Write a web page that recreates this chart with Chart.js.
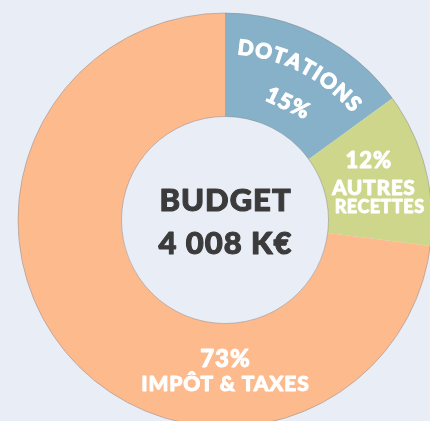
<!DOCTYPE html>
<html>
<head>
<meta charset="utf-8">
<script src="https://cdn.jsdelivr.net/npm/chart.js@4/dist/chart.umd.min.js"></script>
<style>
  html, body { margin: 0; padding: 0; background: #e9edf6; overflow: hidden; width: 430px; height: 421px; }
  #c { display: block; position: absolute; left: 0; top: 0; }
</style>
</head>
<body>
<canvas id="c" width="440" height="440" style="width:440px;height:440px"></canvas>
<script>
// ---- data ----
const categories = ['DOTATIONS', 'AUTRES RECETTES', 'IMPÔT & TAXES'];
const shares = [15, 12, 73];
const centerLines = ['BUDGET', '4 008 K€'];

const colors = ['#87b1c9', '#cdd68b', '#fdba8c'];
const FONT = 'Lato, "DejaVu Sans", sans-serif';

function heavyText(ctx, txt, x, y, sw, ls) {
  ctx.letterSpacing = (ls || 0) + 'px';
  const shift = (ls || 0) / 2; // compensate trailing spacing when centred
  ctx.lineWidth = sw;
  ctx.lineJoin = 'round';
  ctx.strokeStyle = ctx.fillStyle;
  ctx.strokeText(txt, x + shift, y);
  ctx.fillText(txt, x + shift, y);
  ctx.letterSpacing = '0px';
}

const labelPlugin = {
  id: 'labels',
  afterDatasetsDraw(chart) {
    const ctx = chart.ctx;
    const meta = chart.getDatasetMeta(0);
    const arcs = meta.data;
    const a0 = arcs[0];
    const cx = a0.x, cy = a0.y, ro = a0.outerRadius, ri = a0.innerRadius, th = ro - ri;

    // subtle outlines
    ctx.save();
    ctx.strokeStyle = 'rgba(130,130,140,0.45)';
    ctx.lineWidth = 1;
    ctx.beginPath(); ctx.arc(cx, cy, ro, 0, Math.PI * 2); ctx.stroke();
    ctx.beginPath(); ctx.arc(cx, cy, ri, 0, Math.PI * 2); ctx.stroke();
    ctx.restore();

    ctx.save();
    ctx.fillStyle = '#ffffff';
    ctx.textAlign = 'center';
    ctx.textBaseline = 'middle';

    // --- segment 0: curved name + rotated percentage
    {
      const arc = arcs[0];
      const mid = (arc.startAngle + arc.endAngle) / 2;
      const r = ri + th * 0.67;
      ctx.font = '900 21px ' + FONT;
      const txt = categories[0];
      const spacing = 1.6;
      const widths = [...txt].map(ch => ctx.measureText(ch).width + spacing);
      const total = widths.reduce((a, b) => a + b, 0) - spacing;
      let ang = mid - total / r / 2;
      [...txt].forEach((ch, i) => {
        const w = widths[i] - spacing;
        const a = ang + (w / 2) / r;
        ctx.save();
        ctx.translate(cx + r * Math.cos(a), cy + r * Math.sin(a));
        ctx.rotate(a + Math.PI / 2);
        heavyText(ctx, ch, 0, 0, 0.9, 0);
        ctx.restore();
        ang += widths[i] / r;
      });
      const r2 = ri + th * 0.28;
      const a2 = mid + 0.02;
      ctx.save();
      ctx.translate(cx + r2 * Math.cos(a2), cy + r2 * Math.sin(a2));
      ctx.rotate(a2 + Math.PI / 2 - 0.05);
      ctx.font = '900 22px ' + FONT;
      heavyText(ctx, shares[0] + '%', 0, 0, 0.9, 1);
      ctx.restore();
    }

    // --- segment 1: stacked horizontal text
    {
      const arc = arcs[1];
      const mid = (arc.startAngle + arc.endAngle) / 2;
      const r = ri + th * 0.5;
      const bx = cx + r * Math.cos(mid) - 2;
      const by = cy + r * Math.sin(mid);
      const words = categories[1].split(' ');
      ctx.font = '900 22px ' + FONT;
      heavyText(ctx, shares[1] + '%', bx - 5, by - 20, 0.9, 1);
      ctx.font = '900 21px ' + FONT;
      heavyText(ctx, words[0], bx, by + 7, 0.8, 0.6);
      ctx.font = '900 18px ' + FONT;
      heavyText(ctx, words[1], bx + 6, by + 26, 0.8, 0.5);
    }

    // --- segment 2: at the bottom of the ring
    {
      const a = Math.PI / 2;
      const r = ri + th * 0.45;
      const bx = cx + r * Math.cos(a);
      const by = cy + r * Math.sin(a);
      ctx.font = '900 24px ' + FONT;
      heavyText(ctx, shares[2] + '%', bx, by - 11, 0.9, 1);
      ctx.font = '900 21px ' + FONT;
      heavyText(ctx, categories[2], bx, by + 14, 0.9, 0.8);
    }

    // --- centre text
    ctx.fillStyle = '#3b3b3b';
    ctx.font = '900 31px ' + FONT;
    heavyText(ctx, centerLines[0], cx, cy - 19, 1.1, 1);
    heavyText(ctx, centerLines[1], cx, cy + 24, 1.1, 1);
    ctx.restore();
  }
};

new Chart(document.getElementById('c'), {
  type: 'doughnut',
  data: {
    labels: categories,
    datasets: [{
      data: shares,
      backgroundColor: colors,
      borderWidth: 0,
      hoverOffset: 0
    }]
  },
  options: {
    responsive: false,
    animation: false,
    cutout: '50%',
    rotation: 0,
    layout: { padding: { left: 18, right: 8, top: 13, bottom: 13 } },
    plugins: {
      legend: { display: false },
      tooltip: { enabled: false }
    }
  },
  plugins: [labelPlugin]
});
</script>
</body>
</html>
